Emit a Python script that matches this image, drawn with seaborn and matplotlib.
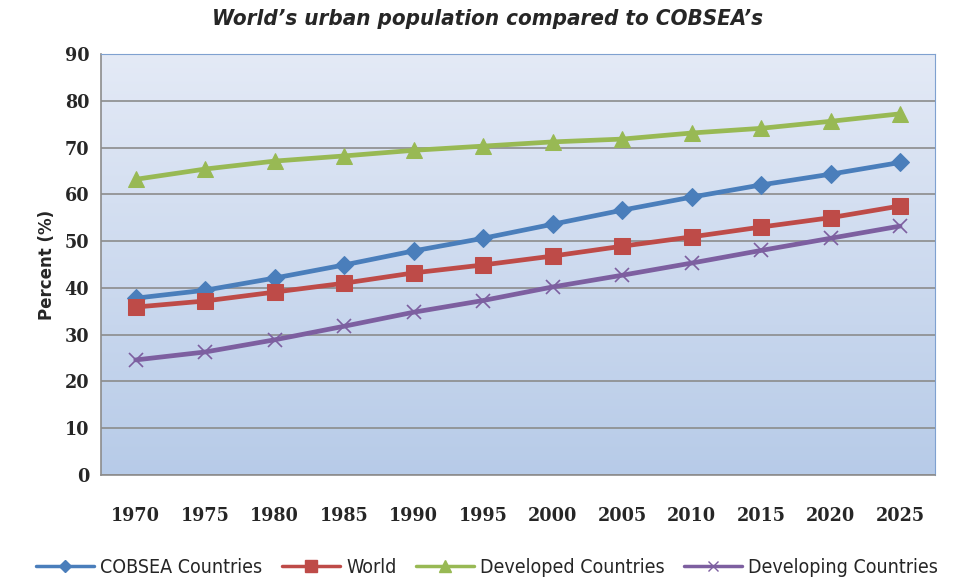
import numpy as np
import pandas as pd
import matplotlib
matplotlib.use('Agg')
import matplotlib.pyplot as plt
import seaborn as sns

# --- données ---
annees = ['1970', '1975', '1980', '1985', '1990', '1995',
          '2000', '2005', '2010', '2015', '2020', '2025']
cobsea = [37.8, 39.5, 42.1, 44.9, 47.9, 50.6, 53.6, 56.6, 59.4, 62.0, 64.3, 66.8]
monde = [35.9, 37.2, 39.1, 41.0, 43.2, 44.9, 46.8, 48.9, 50.9, 53.0, 55.0, 57.5]
developpes = [63.2, 65.4, 67.1, 68.2, 69.4, 70.3, 71.2, 71.8, 73.1, 74.1, 75.6, 77.2]
en_developpement = [24.6, 26.3, 28.9, 31.8, 34.8, 37.3, 40.2, 42.7, 45.3, 48.0, 50.6, 53.2]

series = ['COBSEA Countries', 'World', 'Developed Countries', 'Developing Countries']
couleurs = ['#4a7ebb', '#be4b48', '#98b954', '#7d5fa0']
marqueurs = ['D', 's', '^', 'x']
tailles = [9, 11, 11, 10]

df = pd.DataFrame({'Year': annees * 4,
                   'Percent': cobsea + monde + developpes + en_developpement,
                   'Serie': np.repeat(series, len(annees))})

sns.set_style('white')
plt.rcParams['font.family'] = ['DejaVu Sans']
plt.rcParams['font.stretch'] = 'condensed'

fig = plt.figure(figsize=(9.55, 5.8), dpi=100)
ax = fig.add_axes([0.1058, 0.181, 0.873, 0.726])

# fond dégradé de la zone de tracé (clair en haut, plus bleu en bas)
grad = np.linspace(0, 1, 256).reshape(-1, 1)
cmap = matplotlib.colors.LinearSegmentedColormap.from_list('bg', ['#e4eaf6', '#b7cbe8'])
ax.imshow(grad, cmap=cmap, aspect='auto', extent=[-0.5, 11.5, 0, 90], origin='upper', zorder=0)

sns.lineplot(data=df, x='Year', y='Percent', hue='Serie', hue_order=series,
             palette=couleurs, linewidth=3.4, ax=ax, legend=False, zorder=3)

for ligne, m, t, c in zip(ax.lines, marqueurs, tailles, couleurs):
    ligne.set_marker(m)
    ligne.set_markersize(t)
    ligne.set_markerfacecolor(c)
    ligne.set_markeredgecolor(c)
    if m == 'x':
        ligne.set_markeredgewidth(1.2)

ax.set_xlim(-0.5, 11.5)
ax.set_ylim(0, 90)
ax.set_yticks(range(0, 91, 10))
ax.grid(axis='y', color='#8c8c8c', linewidth=1.2, zorder=1)
ax.set_axisbelow(True)

ax.set_xticks(range(len(annees)))
ax.set_xticklabels(annees, fontsize=14, fontweight='bold', family='DejaVu Serif')
ax.set_xticks(np.arange(-0.5, 12, 1), minor=True)
ax.tick_params(axis='x', which='major', length=0, pad=23)
ax.tick_params(axis='x', which='minor', length=6, color='#8c8c8c', direction='out')
ax.tick_params(axis='y', length=5, color='#8c8c8c', direction='out', labelsize=14)
for lab in ax.get_yticklabels():
    lab.set_fontweight('bold')
    lab.set_family('DejaVu Serif')

for cote in ['top', 'right']:
    ax.spines[cote].set_color('#7fa1d0')
for cote in ['left', 'bottom']:
    ax.spines[cote].set_color('#8c8c8c')
    ax.spines[cote].set_linewidth(1.2)

ax.set_xlabel('')
ax.set_ylabel('Percent (%)', fontsize=12, fontweight='bold', fontstretch='normal', labelpad=6)
fig.suptitle('World\u2019s urban population compared to COBSEA\u2019s', x=0.51, y=0.985,
             fontsize=16, fontstyle='italic', fontweight='bold', fontstretch='condensed')

poignees = [plt.Line2D([], [], color=c, marker=m, markersize=t - 3, linewidth=2.5,
                       markeredgecolor=c)
            for c, m, t in zip(couleurs, marqueurs, tailles)]
fig.legend(poignees, series, loc='lower center', bbox_to_anchor=(0.51, -0.025), ncol=4,
           frameon=False, fontsize=14, handlelength=3, columnspacing=1.0, handletextpad=0.3)

fig.savefig('out.png', dpi=100)
